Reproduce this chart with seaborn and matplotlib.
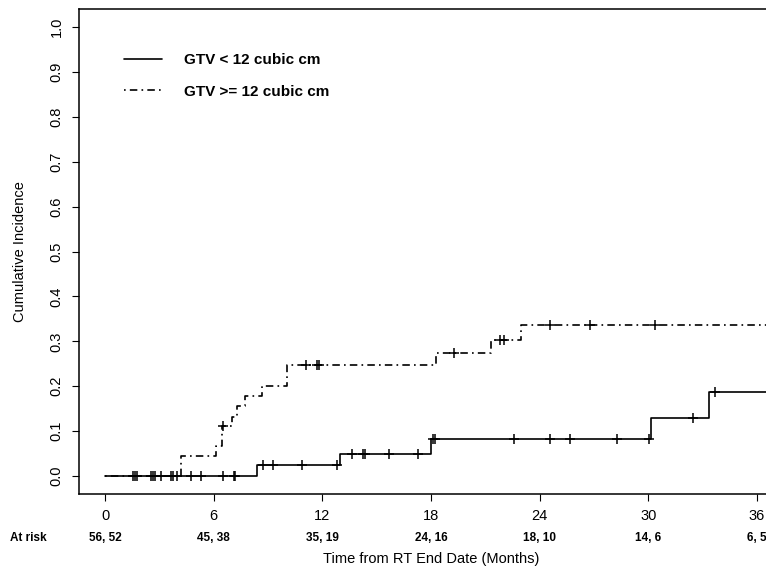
import numpy as np
import pandas as pd
import matplotlib
matplotlib.use("Agg")
import matplotlib.pyplot as plt
import seaborn as sns
from matplotlib.lines import Line2D
from matplotlib.transforms import blended_transform_factory

# GTV < 12 cubic cm  (step times in months, cumulative incidence after the step)
small_times = [0, 8.42, 13.0, 18.0, 30.15, 33.37, 37.5]
small_ci = [0, 0.024, 0.050, 0.082, 0.130, 0.187, 0.187]
small_censored = [1.53, 1.64, 1.75, 2.52, 2.63, 2.74, 3.07, 3.65, 3.74, 4.0,
                  4.73, 5.3, 6.54, 7.1, 7.2, 8.75, 9.3, 10.9, 12.8, 13.66,
                  14.27, 14.36, 15.7, 17.26, 18.1, 18.2, 22.56, 24.6, 25.7,
                  28.3, 30.06, 32.5, 33.7]

# GTV >= 12 cubic cm
large_times = [0, 4.2, 6.12, 6.44, 6.99, 7.3, 7.73, 8.66, 10.07, 18.29, 21.3, 23.0, 37.5]
large_ci = [0, 0.044, 0.067, 0.111, 0.132, 0.156, 0.178, 0.200, 0.248, 0.274, 0.304, 0.336, 0.336]
large_censored = [6.5, 11.1, 11.7, 11.8, 19.25, 21.8, 22.05, 24.6, 26.8, 30.4]

labels = ["GTV < 12 cubic cm", "GTV >= 12 cubic cm"]
x_ticks = [0, 6, 12, 18, 24, 30, 36]
at_risk = ["56, 52", "45, 38", "35, 19", "24, 16", "18, 10", "14, 6", "6, 5"]
y_ticks = [0.0, 0.1, 0.2, 0.3, 0.4, 0.5, 0.6, 0.7, 0.8, 0.9, 1.0]


def value_at(times, ci, t):
    idx = np.searchsorted(times, t, side="right") - 1
    return np.asarray(ci)[idx]


sns.set_style("ticks")
plt.rcParams["font.family"] = ["Liberation Sans", "DejaVu Sans"]
plt.rcParams["text.color"] = "black"
plt.rcParams["axes.labelcolor"] = "black"
plt.rcParams["xtick.color"] = "black"
plt.rcParams["ytick.color"] = "black"

fig = plt.figure(figsize=(7.66, 5.70), dpi=100)
ax = fig.add_axes([0.1031, 0.1333, 0.919, 0.8509])

dotdash = (0, (1, 2.5, 4.5, 2.5))
curves = [
    (small_times, small_ci, small_censored, "-"),
    (large_times, large_ci, large_censored, dotdash),
]
for (times, ci, cens, ls), lab in zip(curves, labels):
    df = pd.DataFrame({"time": times, "ci": ci})
    sns.lineplot(data=df, x="time", y="ci", drawstyle="steps-post",
                 estimator=None, color="black", linewidth=1.2,
                 linestyle=ls, ax=ax)
    cdf = pd.DataFrame({"time": cens, "ci": value_at(times, ci, cens)})
    sns.scatterplot(data=cdf, x="time", y="ci", marker="+", s=60,
                    color="black", linewidth=1.1, ax=ax)

ax.set_xlim(-1.44, 37.44)
ax.set_ylim(-0.04, 1.04)
ax.set_xticks(x_ticks)
ax.set_xticklabels([str(v) for v in x_ticks], fontsize=10.5)
ax.set_yticks(y_ticks)
ax.set_yticklabels([f"{v:.1f}" for v in y_ticks], fontsize=10.5,
                   rotation=90, va="center")
ax.tick_params(axis="both", length=5, width=0.8, pad=6)

for side in ["left", "bottom", "top", "right"]:
    ax.spines[side].set_visible(True)
    ax.spines[side].set_linewidth(1.1)
    ax.spines[side].set_color("black")

ax.set_xlabel("Time from RT End Date (Months)", fontsize=10.5, labelpad=21)
ax.set_ylabel("Cumulative Incidence", fontsize=10.5, labelpad=16)

# number at risk row
trans = blended_transform_factory(ax.transData, fig.transFigure)
for t, n in zip(x_ticks, at_risk):
    ax.text(t, 1 - 538 / 570, n, transform=trans, ha="center", va="center",
            fontsize=8.5, fontweight="bold")
fig.text(10 / 766, 1 - 538 / 570, "At risk", ha="left", va="center",
         fontsize=8.5, fontweight="bold")

handles = [Line2D([], [], color="black", linewidth=1.2, linestyle="-"),
           Line2D([], [], color="black", linewidth=1.2, linestyle=dotdash)]
leg = ax.legend(handles, labels, loc="upper left",
                bbox_to_anchor=(124 / 766, 1 - 53 / 570),
                bbox_transform=fig.transFigure, frameon=False,
                borderpad=0, borderaxespad=0, handlelength=2.5,
                handletextpad=1.4, labelspacing=1.15,
                prop={"weight": "bold", "size": 11})

fig.savefig("out.png", dpi=100)
